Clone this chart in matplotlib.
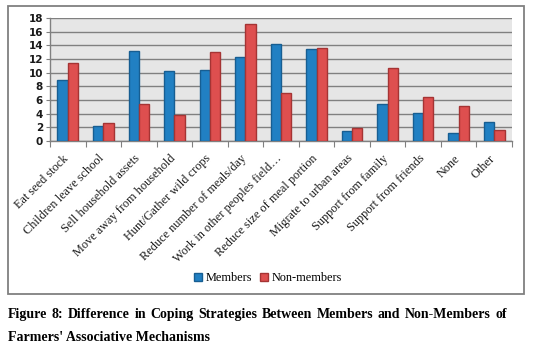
import matplotlib
matplotlib.use("Agg")
import matplotlib.pyplot as plt
from matplotlib.patches import Rectangle, Patch
import numpy as np

categories = ["Eat seed stock", "Children leave school", "Sell household assets",
              "Move away from household", "Hunt/Gather wild crops",
              "Reduce number of meals/day", "Work in other peoples field\u2026",
              "Reduce size of meal portion", "Migrate to urban areas",
              "Support from family", "Support from friends", "None", "Other"]
members = [8.9, 2.2, 13.2, 10.2, 10.4, 12.3, 14.2, 13.5, 1.5, 5.4, 4.1, 1.2, 2.8]
non_members = [11.4, 2.6, 5.4, 3.8, 13.0, 17.1, 7.0, 13.6, 1.9, 10.7, 6.4, 5.1, 1.6]
yticks = list(range(0, 19, 2))

W, H = 542, 348
fig = plt.figure(figsize=(W / 100, H / 100), dpi=100)

def fx(px):
    return px / W

def fy(py):
    return 1 - py / H

# outer chart box
fig.patches.append(Rectangle((fx(8), fy(294)), fx(524) - fx(8), fy(6) - fy(294),
                             transform=fig.transFigure, fill=False,
                             edgecolor="#808080", linewidth=1.3))

ax = fig.add_axes([fx(50), fy(141), fx(512) - fx(50), fy(18) - fy(141)])
ax.set_facecolor("#E6E6E6")
x = np.arange(len(categories))
bw = 0.29
ax.bar(x - bw / 2, members, bw, color="#2180C3", edgecolor="#175E92",
       linewidth=1.0, zorder=3, label="Members")
ax.bar(x + bw / 2, non_members, bw, color="#DE4F4F", edgecolor="#A53434",
       linewidth=1.0, zorder=3, label="Non-members")
ax.set_xlim(-0.5, len(categories) - 0.5)
ax.set_ylim(0, 18)
ax.set_yticks(yticks)
ax.set_yticklabels([str(v) for v in yticks], fontsize=7.5, fontweight="bold",
                   family="DejaVu Sans", color="#1a1a1a")
ax.yaxis.grid(True, color="#808080", linewidth=1.0, zorder=1)
ax.set_axisbelow(True)
for s in ["top", "right"]:
    ax.spines[s].set_visible(False)
ax.spines["left"].set_color("#808080")
ax.spines["bottom"].set_color("#808080")
ax.spines["left"].set_linewidth(1.0)
ax.spines["bottom"].set_linewidth(1.0)
ax.tick_params(axis="y", length=3, color="#808080", pad=2)
ax.set_xticks(np.arange(len(categories) + 1) - 0.5)
ax.set_xticklabels([])
ax.tick_params(axis="x", length=4, color="#808080")
for i, c in enumerate(categories):
    ax.text(i - 0.02, -2.3, c, rotation=45, rotation_mode="anchor",
            ha="right", va="center", fontsize=8.8, family="Liberation Serif",
            color="#1a1a1a", transform=ax.transData, clip_on=False)

handles = [Patch(facecolor="#2180C3", edgecolor="#175E92"),
           Patch(facecolor="#DE4F4F", edgecolor="#A53434")]
fig.legend(handles, ["Members", "Non-members"], loc="center",
           bbox_to_anchor=(fx(268), fy(278)), ncol=2, frameon=False,
           prop={"family": "Liberation Serif", "size": 8.8},
           handlelength=0.6, handleheight=0.6, handletextpad=0.3,
           columnspacing=0.7)

# justified caption line 1
words = ["Figure", "8:", "Difference", "in", "Coping", "Strategies", "Between",
         "Members", "and", "Non-Members", "of"]
fs = 10
renderer = fig.canvas.get_renderer()
tobjs = []
for w in words:
    t = fig.text(0, fy(318), w, fontsize=fs, fontweight="bold",
                 family="Liberation Serif", va="baseline", ha="left")
    tobjs.append(t)
widths = [t.get_window_extent(renderer).width for t in tobjs]
x0, x1 = 8, 507
gap = (x1 - x0 - sum(widths)) / (len(words) - 1)
pos = x0
for t, wd in zip(tobjs, widths):
    t.set_x(fx(pos))
    pos += wd + gap
fig.text(fx(8), fy(341), "Farmers' Associative Mechanisms", fontsize=fs,
         fontweight="bold", family="Liberation Serif", va="baseline", ha="left")

fig.savefig("out.png", dpi=100)
